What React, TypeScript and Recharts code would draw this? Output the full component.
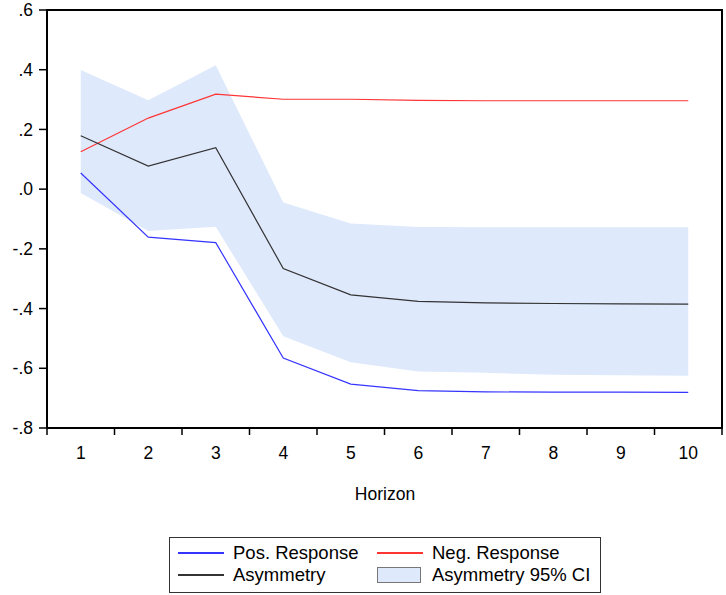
import { ComposedChart, Line, Area, XAxis, YAxis, ReferenceArea } from 'recharts';

const horizons = [1, 2, 3, 4, 5, 6, 7, 8, 9, 10];
const posResponse = [0.054, -0.161, -0.179, -0.566, -0.653, -0.675, -0.679, -0.68, -0.68, -0.681];
const negResponse = [0.125, 0.238, 0.318, 0.301, 0.301, 0.297, 0.296, 0.296, 0.296, 0.296];
const asymmetry = [0.179, 0.077, 0.139, -0.266, -0.354, -0.376, -0.381, -0.383, -0.384, -0.385];
const ciLower = [-0.013, -0.14, -0.126, -0.493, -0.58, -0.611, -0.615, -0.622, -0.623, -0.625];
const ciUpper = [0.399, 0.298, 0.415, -0.045, -0.115, -0.127, -0.128, -0.128, -0.128, -0.128];
const yTicks = [-0.8, -0.6, -0.4, -0.2, 0, 0.2, 0.4, 0.6];

const data = horizons.map((h, i) => ({
  h,
  pos: posResponse[i],
  neg: negResponse[i],
  asym: asymmetry[i],
  ci: [ciLower[i], ciUpper[i]],
}));

// labels at the horizons, tick marks half way between them
const xTicks = [...horizons.flatMap((h) => [h - 0.5, h]), horizons[horizons.length - 1] + 0.5];

const FONT = 'Arial, "Liberation Sans", sans-serif';
const BLUE = '#3535ff';
const RED = '#ff3535';
const DARK = '#333333';
const BAND = '#dfe9fc';

const fmtY = (v: number) => v.toFixed(1).replace(/^(-?)0\./, '$1.');

const XTick = (props: any) => {
  const { x, y, payload } = props;
  const v = payload.value;
  if (Number.isInteger(v)) {
    return (
      <text x={x} y={y + 31} textAnchor="middle" fill="#000" fontSize={17.5} fontFamily={FONT}>
        {v}
      </text>
    );
  }
  return <line x1={x} x2={x} y1={y} y2={y + 7} stroke="#000" strokeWidth={1.5} />;
};

const LegendItem = ({ left, top, label, color, box }: any) => (
  <>
    {box ? (
      <div
        style={{
          position: 'absolute',
          left,
          top: top + 1,
          width: 44,
          height: 16,
          background: BAND,
          border: '1px solid #777',
          boxSizing: 'border-box',
        }}
      />
    ) : (
      <div style={{ position: 'absolute', left, top: top + 8, width: 46, height: 2, background: color }} />
    )}
    <div
      style={{
        position: 'absolute',
        left: left + 55,
        top,
        fontSize: 18.5,
        lineHeight: '18px',
        fontFamily: FONT,
        color: '#000',
        whiteSpace: 'nowrap',
      }}
    >
      {label}
    </div>
  </>
);

export default function App() {
  return (
    <div style={{ position: 'absolute', left: 0, top: 0, width: 726, height: 595, background: '#fff' }}>
      <ComposedChart width={726} height={595} data={data} margin={{ top: 10, right: 4, bottom: 0, left: 0 }}>
        <XAxis
          dataKey="h"
          type="number"
          domain={[0.5, 10.5]}
          ticks={xTicks}
          interval={0}
          height={167}
          tickSize={0}
          tickMargin={0}
          tickLine={false}
          tick={<XTick />}
          axisLine={{ stroke: '#000', strokeWidth: 2 }}
          allowDataOverflow
        />
        <YAxis
          type="number"
          domain={[-0.8, 0.6]}
          ticks={yTicks}
          interval={0}
          width={47}
          tickSize={8}
          tickMargin={6}
          tickFormatter={fmtY}
          tick={{ fill: '#000', fontSize: 17.5, fontFamily: FONT }}
          tickLine={{ stroke: '#000', strokeWidth: 1.5 }}
          axisLine={{ stroke: '#000', strokeWidth: 2 }}
          allowDataOverflow
        />
        <Area
          dataKey="ci"
          type="linear"
          stroke="none"
          fill={BAND}
          fillOpacity={1}
          isAnimationActive={false}
        />
        <Line dataKey="pos" type="linear" stroke={BLUE} strokeWidth={1.2} dot={false} isAnimationActive={false} />
        <Line dataKey="neg" type="linear" stroke={RED} strokeWidth={1.2} dot={false} isAnimationActive={false} />
        <Line dataKey="asym" type="linear" stroke={DARK} strokeWidth={1.2} dot={false} isAnimationActive={false} />
        <ReferenceArea x1={0.5} x2={10.5} y1={-0.8} y2={0.6} fill="none" stroke="#000" strokeWidth={2} />
      </ComposedChart>
      <div
        style={{
          position: 'absolute',
          left: 385,
          top: 486,
          transform: 'translateX(-50%)',
          fontSize: 17.5,
          lineHeight: '17px',
          fontFamily: FONT,
          color: '#000',
        }}
      >
        Horizon
      </div>
      <div
        style={{
          position: 'absolute',
          left: 169,
          top: 537,
          width: 432,
          height: 56,
          border: '1px solid #333',
          boxSizing: 'border-box',
        }}
      />
      <LegendItem left={178} top={544} label="Pos. Response" color={BLUE} />
      <LegendItem left={377} top={544} label="Neg. Response" color={RED} />
      <LegendItem left={178} top={566} label="Asymmetry" color={DARK} />
      <LegendItem left={377} top={566} label="Asymmetry 95% CI" box />
    </div>
  );
}
